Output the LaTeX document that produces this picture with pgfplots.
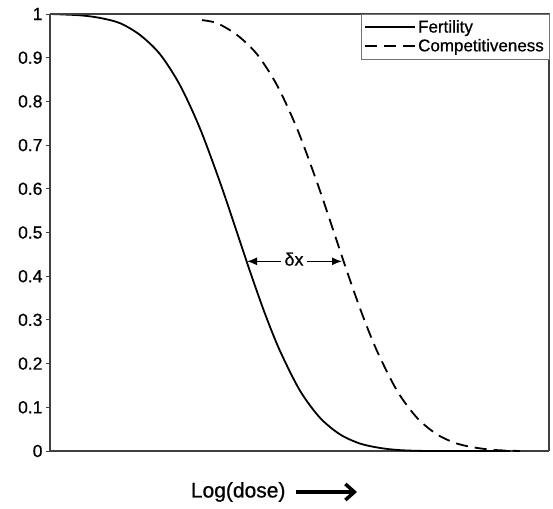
\documentclass[border=0pt]{standalone}
\usepackage{fontspec}
\setmainfont{Liberation Sans}[UprightFeatures={FakeBold=0.7}]
\usepackage{pgfplots}
\pgfplotsset{compat=1.18}
\usetikzlibrary{arrows.meta}

\pgfplotstableread{
x y
50 1.000
80 0.997
100 0.991
120 0.979
140 0.952
160 0.908
180 0.837
200 0.738
220 0.615
237 0.500
250 0.411
265 0.314
280 0.229
300 0.138
320 0.076
340 0.038
360 0.017
380 0.007
400 0.002
430 0.000
510 0.000
}\fertility

\pgfplotstableread{
x y
202 0.986
217 0.979
237 0.952
257 0.908
277 0.837
297 0.738
317 0.615
334 0.500
347 0.411
362 0.314
377 0.229
397 0.138
417 0.076
437 0.038
457 0.017
477 0.007
497 0.002
520 0.000
}\compet

\begin{document}
\begin{tikzpicture}
\begin{axis}[
    scale only axis,
    width=499pt, height=437pt,
    xmin=50, xmax=549,
    ymin=0, ymax=1,
    xtick=\empty,
    ytick={0,0.1,...,1},
    yticklabel style={font=\fontsize{17.5}{20}\selectfont, /pgf/number format/assume math mode=true},
    tick align=outside,
    major tick length=4pt,
    axis line style={line width=1.2pt, black!75},
    tick style={black!75, line width=0.8pt},
    axis x line*=bottom, axis y line*=left,
    clip=false,
    legend style={at={(rel axis cs:1,1)}, anchor=north east, draw=black!55,
        font=\fontsize{17}{19}\selectfont, inner xsep=3pt, inner ysep=4pt, row sep=1pt},
    legend cell align=left,
    legend image code/.code={\draw[#1, line width=1.8pt] (0cm,0cm) -- (1.75cm,0cm);},
]
\addplot[black, line width=1.8pt, smooth] table {\fertility};
\addlegendentry{Fertility}
\addplot[black, line width=1.8pt, smooth, dash pattern=on 12pt off 7pt] table {\compet};
\addlegendentry{Competitiveness}

\draw[black!75, line width=1.2pt] (rel axis cs:0,1) -- (rel axis cs:1,1) -- (rel axis cs:1,0);

\draw[-{Latex[length=10pt,width=8pt]}, line width=1.3pt] (axis cs:281,0.434) -- (axis cs:247,0.434);
\draw[-{Latex[length=10pt,width=8pt]}, line width=1.3pt] (axis cs:307,0.434) -- (axis cs:342,0.434);
\node[font=\fontsize{18}{20}\selectfont] at (axis cs:294,0.439) {δx};

\node[anchor=east, font=\fontsize{21}{24}\selectfont] (lbl) at ([yshift=-41pt]axis cs:289,0) {Log(dose)};
\draw[line width=3.5pt, -{Straight Barb[length=9pt,width=16pt]}] ([yshift=-41pt]axis cs:296,0) -- ([yshift=-41pt]axis cs:357,0);
\end{axis}
\path ([shift={(-50pt,-57pt)}]current axis.south west) rectangle ([shift={(4pt,14pt)}]current axis.north east);
\end{tikzpicture}
\end{document}
